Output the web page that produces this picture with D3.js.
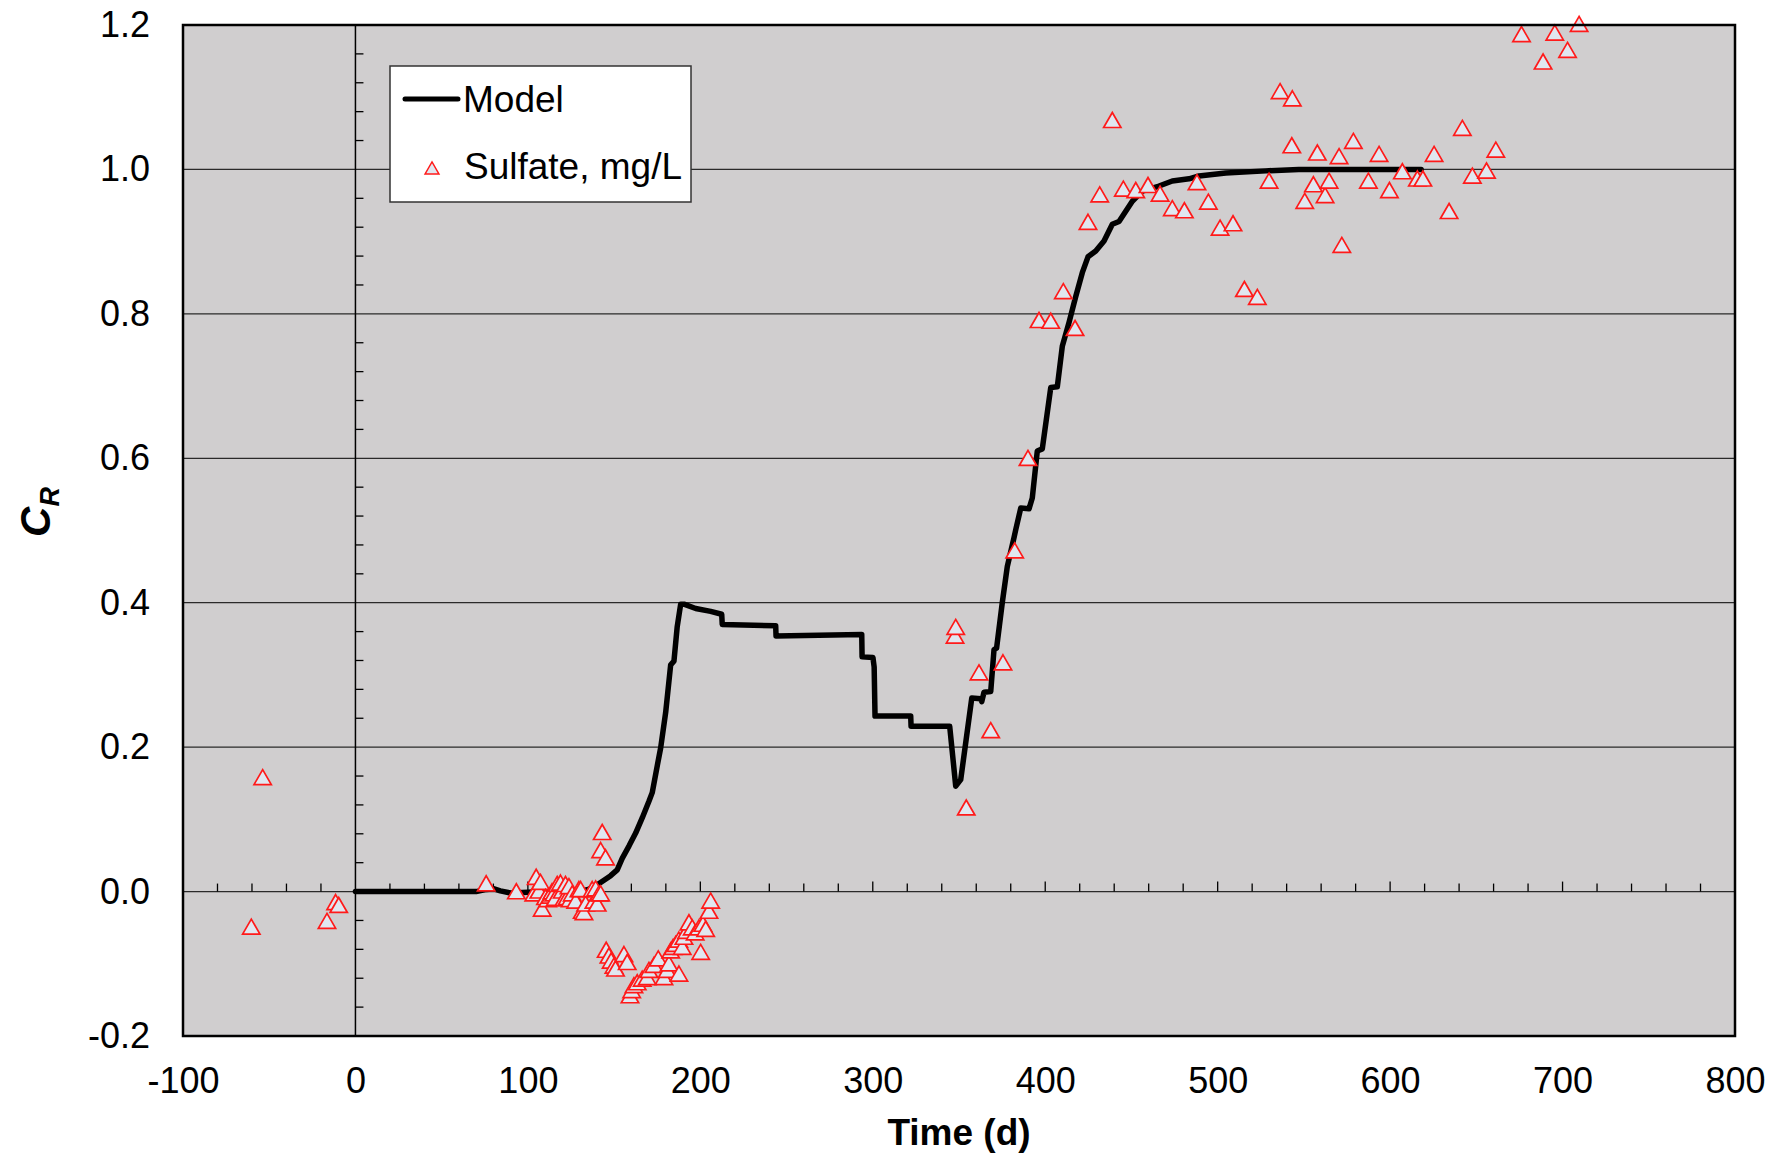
<!DOCTYPE html>
<html>
<head>
<meta charset="utf-8">
<script src="https://cdn.jsdelivr.net/npm/d3@7"></script>
<style>
  html, body { margin: 0; padding: 0; background: #ffffff; }
  svg { display: block; font-family: "Liberation Sans", Arial, sans-serif; }
</style>
</head>
<body>
<svg id="chart" width="1775" height="1157"></svg>
<script>
// ---------- data ----------
const xTicks = [-100, 0, 100, 200, 300, 400, 500, 600, 700, 800];
const yTicks = [-0.2, 0.0, 0.2, 0.4, 0.6, 0.8, 1.0, 1.2];

const modelTime = [0, 70, 76, 80, 84, 90, 100, 110, 130, 135, 140, 145, 148, 151.8, 154.7, 158.6, 162.5, 166.3, 170.2, 172.1, 175, 177, 179.9, 182.8, 184.7, 186.6, 188.6, 190.5, 197.3, 206, 212.4, 212.7, 243.7, 243.9, 293.6, 293.8, 300.1, 300.8, 301.3, 322, 322.2, 344.6, 348.1, 351, 357.4, 362.6, 363.2, 364.5, 368.4, 370.3, 371.8, 375.1, 378, 381.9, 382.9, 385.8, 390.6, 392.5, 395.4, 398.3, 403.2, 407, 409.9, 413.8, 417.7, 421.5, 424.8, 429.3, 434.1, 438.9, 442.8, 450.5, 456.3, 466, 473.7, 483.4, 489.2, 504.7, 528, 547, 618];
const modelCR = [0, 0, 0.003, 0.004, 0.001, -0.002, -0.001, 0, 0, 0.003, 0.009, 0.017, 0.022, 0.030, 0.046, 0.063, 0.081, 0.102, 0.125, 0.137, 0.174, 0.199, 0.248, 0.314, 0.319, 0.367, 0.398, 0.398, 0.392, 0.388, 0.384, 0.370, 0.368, 0.354, 0.356, 0.325, 0.324, 0.311, 0.243, 0.243, 0.229, 0.229, 0.146, 0.155, 0.268, 0.267, 0.263, 0.276, 0.277, 0.335, 0.337, 0.400, 0.450, 0.490, 0.501, 0.531, 0.530, 0.545, 0.610, 0.613, 0.698, 0.699, 0.755, 0.788, 0.824, 0.857, 0.879, 0.887, 0.901, 0.924, 0.928, 0.956, 0.970, 0.977, 0.984, 0.987, 0.991, 0.995, 0.998, 1.0, 1.0];

const sulfateTime = [-60.4, -53.8, -16.5, -11.5, -9.7,
  75.8, 93.3, 103.4, 104.8, 106.4, 107.3, 108.3, 110.2, 111.5, 113.1, 114, 115, 116, 117, 118.9, 119.9, 120.8, 121.8, 122.8, 123.8, 124.5, 125.7, 127.7, 129.6, 130.6, 131.5, 132.5, 133.5, 137.3, 138.3, 139.3, 140.2, 141.2, 142.2,
  143.1, 142.2, 145,
  145.4, 147, 148.3, 149.9, 150.8, 155.7, 157.6, 159.2, 160.2, 161.5, 163.4, 166.3, 169.2, 170.2, 173.1, 175.6, 178.9, 180.8, 181.8, 182.8, 184.2, 185.7, 187.5, 187.6, 189.5, 190.5, 192, 193.4, 195.3, 197, 199.2, 200.2, 201.5, 203.1, 205, 206,
  347.7, 348.1, 354.2, 361.6, 368.4, 375.5, 382.3, 390,
  396.4, 403.2, 410.5, 417.3, 424.8, 431.6, 438.9, 445.3, 452.5, 459.6, 466.6, 473.7, 480.7, 488, 494.6, 501.4, 508.9, 515.5, 523, 529.8, 536.2, 543.3, 543, 550.5, 555.5, 557.8, 562.3, 564.6, 570.4, 572, 578.7, 587.4, 593.6, 599.6, 607.1, 615.8, 619, 625.5, 634.2, 641.9, 647.7, 655.9, 661.3, 676.2, 688.7, 695.5, 702.9, 709.6];
const sulfateCR = [-0.052, 0.155, -0.044, -0.018, -0.022,
  0.008, -0.003, -0.006, 0.017, -0.002, 0.010, -0.027, -0.011, -0.014, -0.009, -0.003, -0.006, -0.012, 0.007, 0.009, -0.002, -0.013, 0.007, -0.011, 0.004, -0.014, -0.006, -0.016, 0.0, 0.0, -0.030, -0.032, -0.020, 0.0, -0.016, 0.001, -0.020, -0.006, -0.006,
  0.079, 0.054, 0.044,
  -0.084, -0.092, -0.099, -0.106, -0.110, -0.090, -0.101, -0.147, -0.140, -0.133, -0.129, -0.124, -0.122, -0.112, -0.105, -0.096, -0.122, -0.112, -0.103, -0.085, -0.080, -0.076, -0.070, -0.117, -0.080, -0.066, -0.058, -0.046, -0.053, -0.060, -0.053, -0.087, -0.048, -0.055, -0.030, -0.016,
  0.351, 0.363, 0.113, 0.300, 0.220, 0.314, 0.469, 0.597,
  0.788, 0.787, 0.828, 0.777, 0.924, 0.962, 1.065, 0.970, 0.968, 0.975, 0.963, 0.943, 0.940, 0.979, 0.952, 0.916, 0.922, 0.831, 0.820, 0.981, 1.105, 1.095, 1.030, 0.953, 0.976, 1.020, 0.961, 0.981, 1.015, 0.892, 1.036, 0.981, 1.018, 0.968, 0.994, 0.984, 0.984, 1.018, 0.939, 1.054, 0.988, 0.995, 1.024, 1.184, 1.146, 1.186, 1.162, 1.198];

const seriesNames = ["Model", "Sulfate, mg/L"];
const xTitle = "Time (d)";

// ---------- layout ----------
const svg = d3.select("#chart");
const L = 183, R = 1735, T = 25, B = 1036;
const x = d3.scaleLinear().domain([-100, 800]).range([L, R]);
const y = d3.scaleLinear().domain([-0.2, 1.2]).range([B, T]);
const hyphen = f => d => f(d).replace("\u2212", "-");

// plot background
svg.append("rect").attr("x", L).attr("y", T).attr("width", R - L).attr("height", B - T)
  .attr("fill", "#d0cecf");

// horizontal gridlines
svg.append("g").selectAll("line").data(yTicks.slice(1, -1)).join("line")
  .attr("x1", L).attr("x2", R)
  .attr("y1", d => y(d)).attr("y2", d => y(d))
  .attr("stroke", "#2a2a2a").attr("stroke-width", 1.3);

// y axis line at t = 0 with minor ticks
svg.append("line").attr("x1", x(0)).attr("x2", x(0)).attr("y1", T).attr("y2", B)
  .attr("stroke", "#000").attr("stroke-width", 1.5);
const yMinor = d3.range(-0.2, 1.2001, 0.04).filter(v => Math.abs(Math.round(v * 5) - v * 5) > 1e-6);
svg.append("g").selectAll("line").data(yMinor).join("line")
  .attr("x1", x(0)).attr("x2", x(0) + 8)
  .attr("y1", d => y(d)).attr("y2", d => y(d))
  .attr("stroke", "#000").attr("stroke-width", 1.3);

// x axis minor ticks at y = 0
const xMinor = d3.range(-100, 801, 20).filter(v => v > -100 && v < 800 && v !== 0);
svg.append("g").selectAll("line").data(xMinor).join("line")
  .attr("x1", d => x(d)).attr("x2", d => x(d))
  .attr("y1", y(0)).attr("y2", d => y(0) - (d % 100 === 0 ? 10 : 8))
  .attr("stroke", "#000").attr("stroke-width", 1.3);

// model line
const line = d3.line().x((d, i) => x(modelTime[i])).y((d, i) => y(modelCR[i]));
svg.append("path").datum(modelCR).attr("d", line)
  .attr("fill", "none").attr("stroke", "#000").attr("stroke-width", 5.5)
  .attr("stroke-linejoin", "round").attr("stroke-linecap", "round");

// sulfate triangles
const tri = d3.symbol().type(d3.symbolTriangle).size(130);
svg.append("g").selectAll("path").data(sulfateCR).join("path")
  .attr("d", tri)
  .attr("transform", (d, i) => `translate(${x(sulfateTime[i])},${y(d)})`)
  .attr("fill", "#e0e7f0").attr("stroke", "#ff1a1a").attr("stroke-width", 1.7);

// plot border
svg.append("rect").attr("x", L).attr("y", T).attr("width", R - L).attr("height", B - T)
  .attr("fill", "none").attr("stroke", "#000").attr("stroke-width", 2.5);

// axes labels
const xAxis = svg.append("g").attr("transform", `translate(0,${B})`)
  .call(d3.axisBottom(x).tickValues(xTicks).tickSize(0).tickPadding(31).tickFormat(hyphen(d3.format("d"))));
xAxis.select(".domain").remove();
xAxis.selectAll("text").attr("font-size", 36).attr("fill", "#000")
  .attr("font-family", "'Liberation Sans', Arial, sans-serif");

const yAxis = svg.append("g").attr("transform", `translate(${L},0)`)
  .call(d3.axisLeft(y).tickValues(yTicks).tickSize(0).tickPadding(33).tickFormat(hyphen(d3.format(".1f"))));
yAxis.select(".domain").remove();
yAxis.selectAll("text").attr("font-size", 36).attr("fill", "#000")
  .attr("font-family", "'Liberation Sans', Arial, sans-serif");

// axis titles
svg.append("text").attr("x", (L + R) / 2).attr("y", 1145).attr("text-anchor", "middle")
  .attr("font-size", 37).attr("font-weight", "bold").text(xTitle);

const yt = svg.append("text").attr("transform", "translate(50,512) rotate(-90)")
  .attr("text-anchor", "middle").attr("font-weight", "bold").attr("font-style", "italic");
yt.append("tspan").attr("font-size", 42).text("C");
yt.append("tspan").attr("font-size", 27).attr("dy", 9).text("R");

// legend
const lg = svg.append("g");
lg.append("rect").attr("x", 390).attr("y", 66).attr("width", 301).attr("height", 136)
  .attr("fill", "#fff").attr("stroke", "#333").attr("stroke-width", 1.5);
lg.append("line").attr("x1", 405).attr("x2", 458).attr("y1", 99).attr("y2", 99)
  .attr("stroke", "#000").attr("stroke-width", 5).attr("stroke-linecap", "round");
lg.append("text").attr("x", 463).attr("y", 112).attr("font-size", 37).text(seriesNames[0]);
lg.append("path").attr("d", d3.symbol().type(d3.symbolTriangle).size(85)())
  .attr("transform", "translate(432,170)")
  .attr("fill", "#e0e7f0").attr("stroke", "#ff1a1a").attr("stroke-width", 1.4);
lg.append("text").attr("x", 464).attr("y", 179).attr("font-size", 37).text(seriesNames[1]);
</script>
</body>
</html>
